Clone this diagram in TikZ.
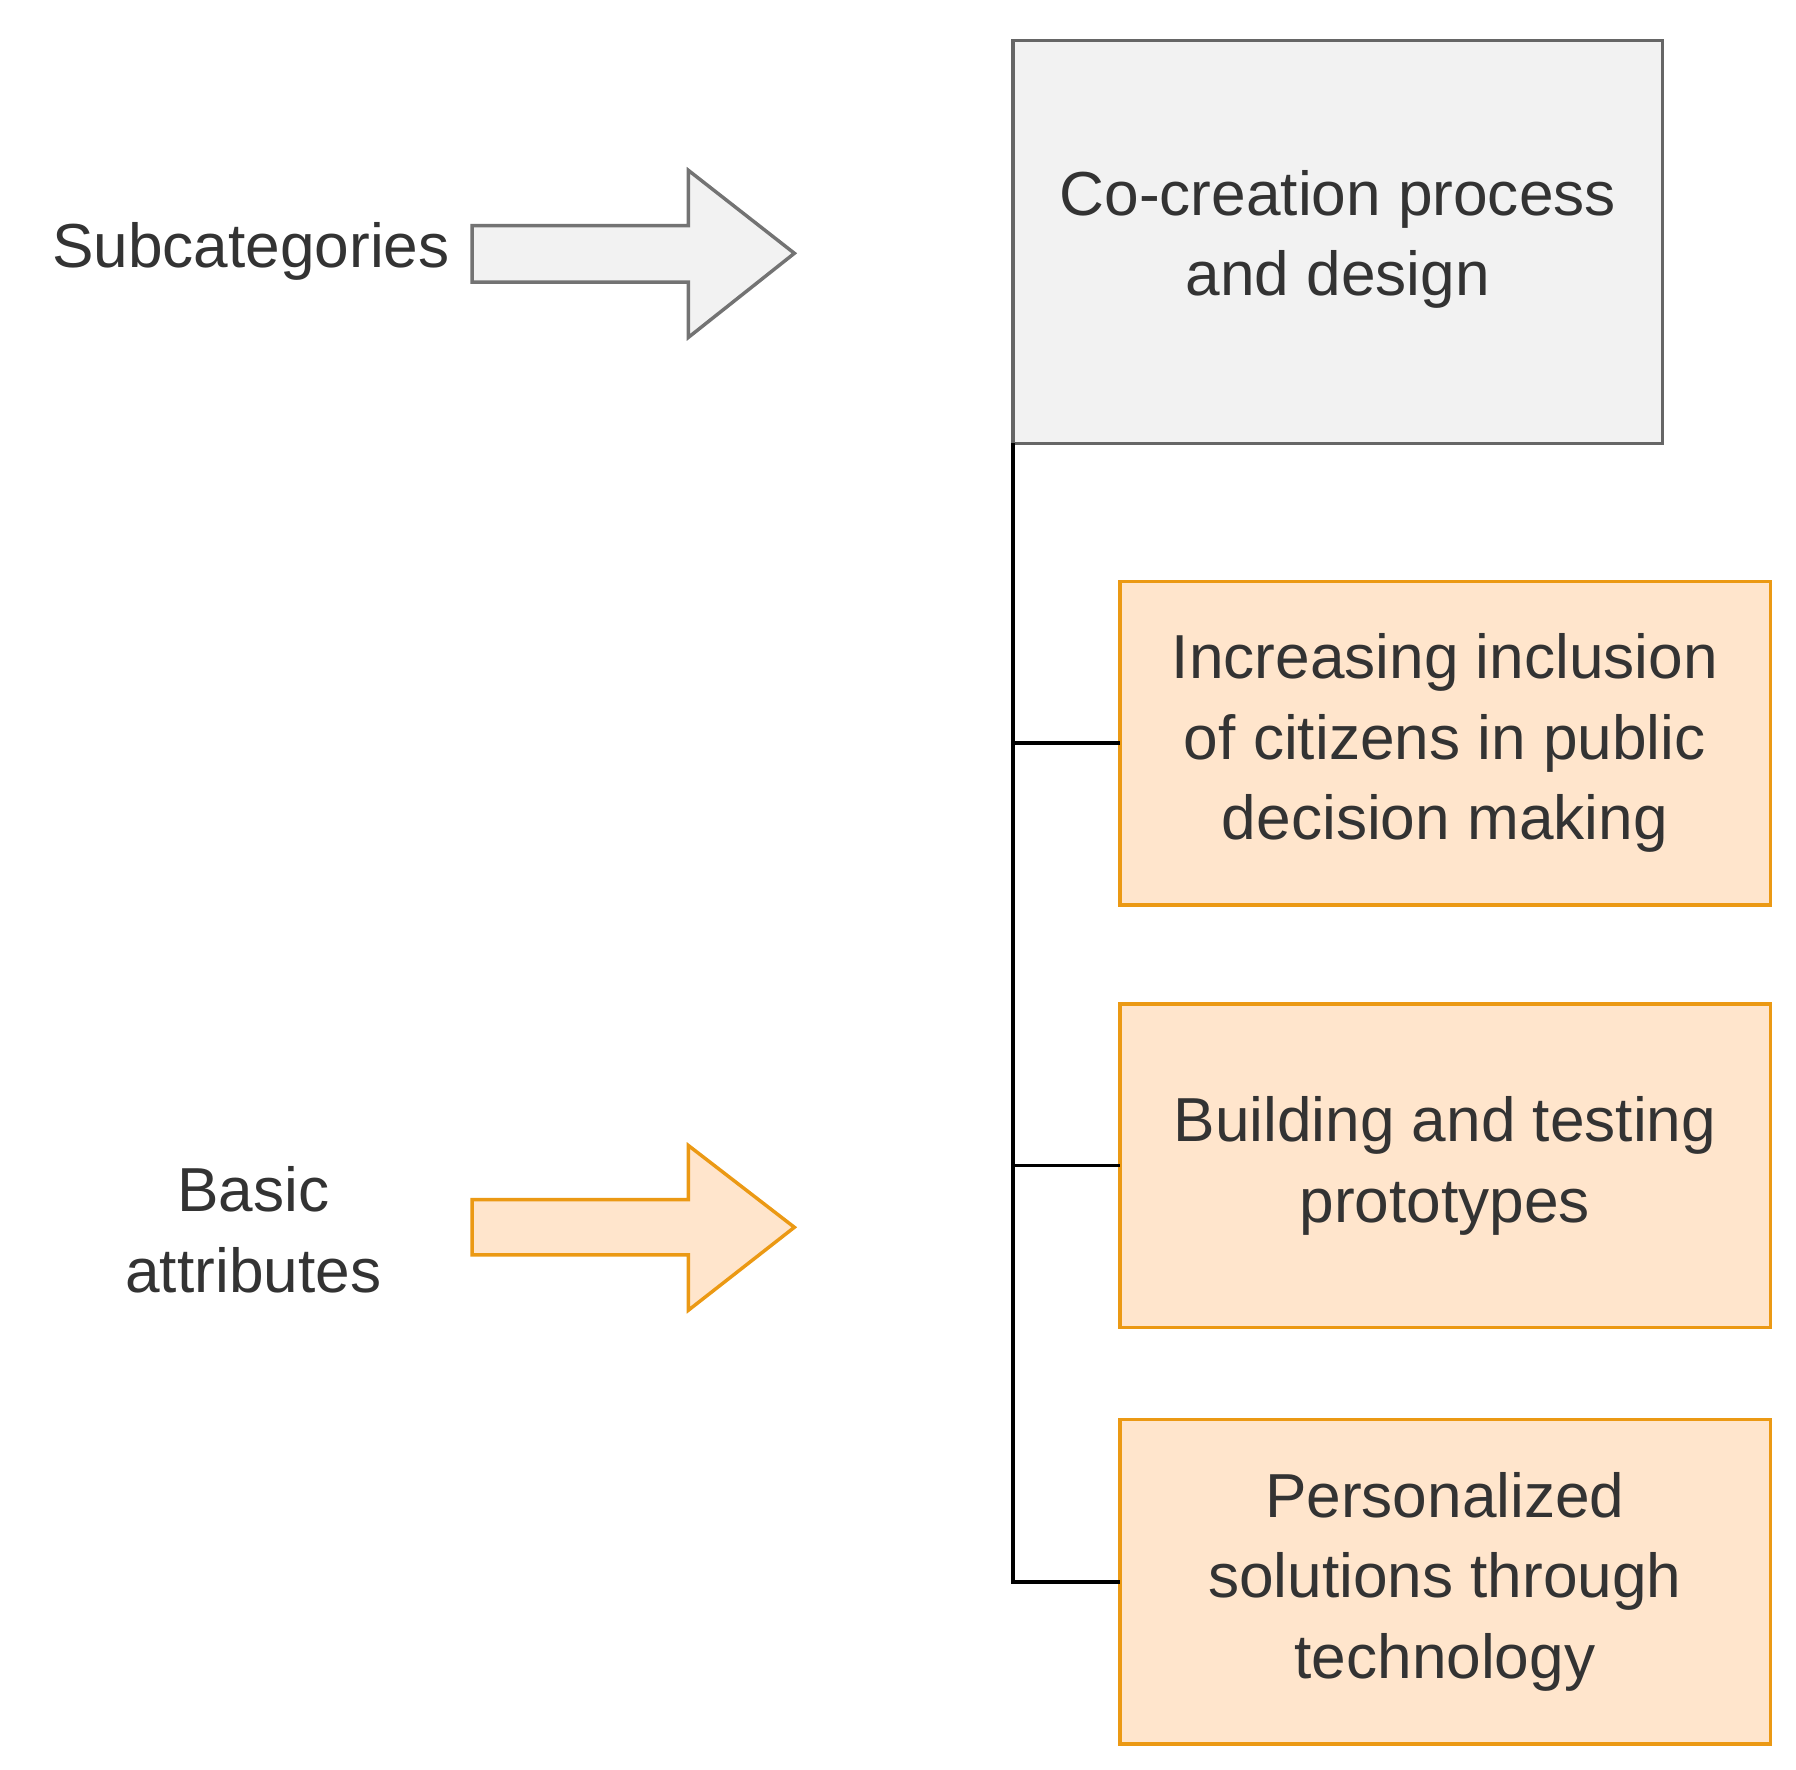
\documentclass[tikz,border=0pt]{standalone}
\usepackage{fontspec}
\setmainfont{Liberation Sans}
\begin{document}
\begin{tikzpicture}[x=1pt,y=-1pt,
  every node/.style={font=\fontsize{54}{70}\selectfont, text=black!80, align=center},
  gbox/.style={draw=black!60, line width=3pt, fill=black!5},
  obox/.style={draw=orange!60!brown!80!yellow, line width=3pt, fill=orange!20},
  conn/.style={line width=3pt, black}]
\useasboundingbox (0,0) rectangle (1560,1537);
\draw[gbox] (880,35) rectangle (1444,385);
\node (top) at (1162,208) {Co-creation process\\and design};
\coordinate (tbl) at (880,385);
\foreach \n/\ya/\yb/\t in {a/505/786/{Increasing inclusion\\of citizens in public\\decision making},
  b/872/1153/{Building and testing\\prototypes},
  c/1233/1515/{Personalized\\solutions through\\technology}}{
  \draw[obox] (973,\ya) rectangle (1538,\yb);
  \node (\n) at (1255,{(\ya+\yb)/2}) {\t};
  \coordinate (\n w) at (973,{(\ya+\yb)/2});
}
\draw[conn] (tbl) |- (cw);
\draw[conn] (tbl |- aw) -- (aw);
\draw[conn] (tbl |- bw) -- (bw);
\node (sub) at (218,218) {Subcategories};
\node (basic) at (220,1068) {Basic\\attributes};
\draw[line width=3pt, draw=black!55, fill=black!5]
  (410,196) -- (598,196) -- (598,148) -- (690,220) -- (598,293) -- (598,245) -- (410,245) -- cycle;
\draw[line width=3pt, draw=orange!60!brown!80!yellow, fill=orange!20]
  (410,1042) -- (598,1042) -- (598,995) -- (690,1066) -- (598,1138) -- (598,1090) -- (410,1090) -- cycle;
\end{tikzpicture}
\end{document}
